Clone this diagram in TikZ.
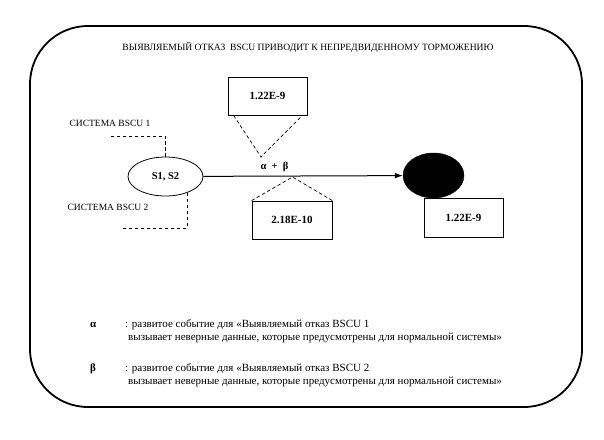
\documentclass[tikz,border=0pt]{standalone}
\usepackage{fontspec}
\setmainfont{Liberation Serif}
\usetikzlibrary{positioning, arrows.meta, shapes.geometric, calc}

\begin{document}
\begin{tikzpicture}[x=1pt, y=-1pt,
          bx/.style={draw, line width=0.8pt, minimum width=79pt,
                     minimum height=38pt, inner sep=0pt, font=\fontsize{11}{13}\selectfont\bfseries},
          dsh/.style={dashed, dash pattern=on 3.5pt off 2.5pt, line width=0.7pt},
          lbl/.style={font=\fontsize{9.5}{11}\selectfont, inner sep=0pt},
          lg/.style={font=\fontsize{11}{13}\selectfont, inner sep=0pt, anchor=base west},
          arr/.style={-{Latex[length=8pt, width=6pt]}, line width=1pt}]
        \useasboundingbox (0,0) rectangle (604,439);
        \draw[line width=1.8pt, rounded corners=58pt] (30,26) rectangle (582,407);
        \node[font=\fontsize{9.6}{11}\selectfont, inner sep=0pt] (title) at (308,47)
          {ВЫЯВЛЯЕМЫЙ ОТКАЗ\ \ BSCU ПРИВОДИТ К НЕПРЕДВИДЕННОМУ ТОРМОЖЕНИЮ};
        % events and states
        \node[draw, ellipse, line width=0.8pt, minimum width=75pt, minimum height=39pt,
              font=\fontsize{10.5}{12}\selectfont\bfseries] (src) at (165.5,176.5) {S1, S2};
        \node[draw, ellipse, fill=black, minimum width=61pt, minimum height=45pt] (fin) at (433.5,175.5) {};
        \node[bx] (top) at (267.5,96) {1.22E-9};
        \node[bx, minimum width=80pt] (bot) at (292,220) {2.18E-10};
        \node[bx, minimum height=39pt] (res) at (463.5,217.5) {1.22E-9};
        \draw[arr] (src) -- (fin);
        \node[font=\fontsize{10.5}{12}\selectfont\bfseries, inner sep=0pt] (ab) at (274.5,167)
          {α\ \ +\ \ β};
        % probability links
        \coordinate (pa) at (261,157);
        \coordinate (pb) at (292.5,177);
        \draw[dsh] ($(top.south west)+(6,0)$) -- (pa) -- ($(top.south east)+(-5,0)$);
        \draw[dsh] (bot.north west) -- (pb) -- (bot.north east);
        % systems
        \node[lbl] (sys1) at (110,123) {СИСТЕМА BSCU 1};
        \node[lbl] (sys2) at (108,207) {СИСТЕМА BSCU 2};
        \coordinate (k1) at (109,136);
        \coordinate (k2) at (122,228);
        \draw[dsh] (src.north) |- (k1);
        \draw[dsh] (src.-37) |- (k2);
        % legend
        \node[lg, font=\fontsize{11}{13}\selectfont\bfseries] (la) at (90,327) {α};
        \node[lg] (la1) at (125,327) {: развитое событие для «Выявляемый отказ BSCU 1};
        \node[lg] (la2) at (128,340) {вызывает неверные данные, которые предусмотрены для нормальной системы»};
        \node[lg, font=\fontsize{11}{13}\selectfont\bfseries] (lb) at (90,371) {β};
        \node[lg] (lb1) at (125,371) {: развитое событие для «Выявляемый отказ BSCU 2};
        \node[lg] (lb2) at (128,384) {вызывает неверные данные, которые предусмотрены для нормальной системы»};
\end{tikzpicture}
\end{document}
